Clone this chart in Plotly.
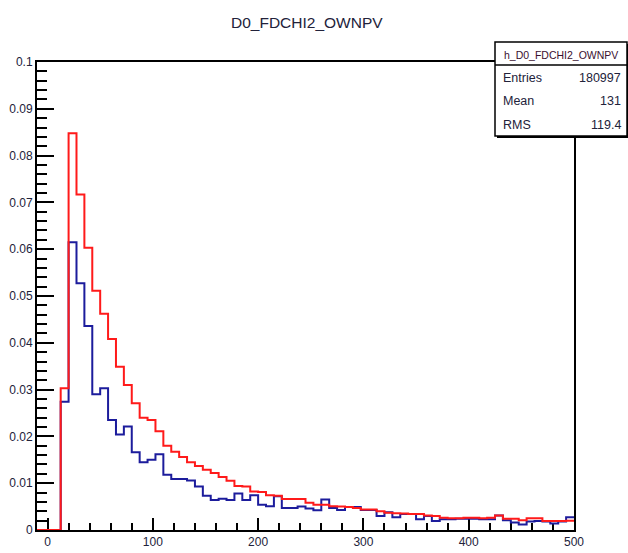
import numpy as np
import plotly.graph_objects as go

# Histogram binning (68 bins of 7.5 from -10 to 500)
X_MIN, X_MAX, N_BINS = -10.0, 500.0, 68

# Normalised bin contents, red histogram
red_values = [
    0.0, 0.0, 0.0,
    0.0303, 0.0848, 0.0717, 0.0603, 0.0511, 0.0462, 0.0408, 0.0349, 0.0310, 0.0271,
    0.0240, 0.0235, 0.0211, 0.0180, 0.0167, 0.0156, 0.0145, 0.0137, 0.0129, 0.0122,
    0.0113, 0.0105, 0.0094, 0.0093, 0.0082, 0.0081, 0.0074, 0.0073, 0.0066, 0.0066,
    0.0066, 0.0058, 0.0054, 0.0054, 0.0051, 0.0050, 0.0049, 0.0047, 0.0044, 0.0044,
    0.0040, 0.0037, 0.0036, 0.0035, 0.0034, 0.0034, 0.0031, 0.0030, 0.0026, 0.0025,
    0.0025, 0.0026, 0.0026, 0.0025, 0.0026, 0.0031, 0.0024, 0.0024, 0.0021, 0.0025,
    0.0025, 0.0019, 0.0019, 0.0019, 0.0020,
]

# Normalised bin contents, blue histogram
blue_values = [
    0.0, 0.0, 0.0,
    0.0274, 0.0615, 0.0527, 0.0436, 0.0290, 0.0303, 0.0235, 0.0204, 0.0221, 0.0166,
    0.0145, 0.0150, 0.0162, 0.0118, 0.0109, 0.0109, 0.0106, 0.0093, 0.0073, 0.0064,
    0.0067, 0.0064, 0.0078, 0.0064, 0.0074, 0.0054, 0.0051, 0.0072, 0.0047, 0.0047,
    0.0050, 0.0046, 0.0042, 0.0065, 0.0047, 0.0043, 0.0049, 0.0049, 0.0043, 0.0043,
    0.0030, 0.0038, 0.0027, 0.0034, 0.0034, 0.0023, 0.0030, 0.0019, 0.0023, 0.0023,
    0.0024, 0.0024, 0.0024, 0.0023, 0.0023, 0.0031, 0.0021, 0.0016, 0.0012, 0.0018,
    0.0019, 0.0018, 0.0014, 0.0018, 0.0027,
]

# Statistics box contents
hist_name = "h_D0_FDCHI2_OWNPV"
stat_labels = ["Entries", "Mean", "RMS"]
stat_values = ["180997", "131", "119.4"]

title_text = "D0_FDCHI2_OWNPV"

x_tick_vals = [0, 100, 200, 300, 400, 500]
x_tick_text = ["0", "100", "200", "300", "400", "500"]
y_tick_vals = [0.0, 0.01, 0.02, 0.03, 0.04, 0.05, 0.06, 0.07, 0.08, 0.09, 0.1]
y_tick_text = ["0", "0.01", "0.02", "0.03", "0.04", "0.05", "0.06", "0.07", "0.08", "0.09", "0.1"]

# Page geometry
W, H = 628, 553
ML, MR, MT, MB = 37, 54, 62, 23
FONT = "Liberation Sans, Arial, sans-serif"
TEXT_COLOR = "#22223a"


def paper(x, y):
    """Convert page pixel coordinates into paper coordinates."""
    return (x - ML) / (W - ML - MR), (H - MB - y) / (H - MT - MB)


edges = np.linspace(X_MIN, X_MAX, N_BINS + 1)


def step_trace(values, color):
    ys = list(values) + [values[-1]]
    return go.Scatter(
        x=edges, y=ys, mode="lines", line=dict(shape="hv", color=color, width=2),
        hoverinfo="skip", showlegend=False,
    )


fig = go.Figure()
fig.add_trace(step_trace(blue_values, "#1c1c9c"))
fig.add_trace(step_trace(red_values, "#ff1a1a"))

axis_common = dict(
    showgrid=False, zeroline=False, showline=True, mirror=True,
    linecolor="black", linewidth=2, ticks="inside", tickcolor="black",
    tickwidth=1.5, layer="below traces", automargin=False,
    tickfont=dict(family=FONT, size=12, color=TEXT_COLOR),
)

fig.update_xaxes(
    range=[X_MIN, X_MAX], tickvals=x_tick_vals, ticktext=x_tick_text,
    ticklen=12,
    minor=dict(ticks="inside", dtick=20, tick0=0, ticklen=7, tickcolor="black", tickwidth=1.5),
    **axis_common,
)
fig.update_yaxes(
    range=[0, 0.1], tickvals=y_tick_vals, ticktext=y_tick_text,
    ticklen=17,
    minor=dict(ticks="inside", dtick=0.002, tick0=0, ticklen=10, tickcolor="black", tickwidth=1.5),
    **axis_common,
)

shapes = []
annotations = []

# Statistics box with a thin shadow
bx0, by0, bx1, by1, bsep = 495, 42, 627, 136, 65
sx0, sy0 = paper(bx0 + 2, by0 + 2)
sx1, sy1 = paper(bx1 + 2, by1 + 2)
shapes.append(dict(type="rect", xref="paper", yref="paper", x0=sx0, y0=sy0, x1=sx1, y1=sy1,
                   fillcolor="black", line=dict(width=0), layer="above"))
px0, py0 = paper(bx0, by0)
px1, py1 = paper(bx1, by1)
shapes.append(dict(type="rect", xref="paper", yref="paper", x0=px0, y0=py0, x1=px1, y1=py1,
                   fillcolor="white", line=dict(color="black", width=1.5), layer="above"))
_, ysep = paper(0, bsep)
shapes.append(dict(type="line", xref="paper", yref="paper", x0=px0, y0=ysep, x1=px1, y1=ysep,
                   line=dict(color="black", width=1.5), layer="above"))

cx, cy = paper((bx0 + bx1) / 2, (by0 + bsep) / 2 + 1)
annotations.append(dict(x=cx, y=cy, xref="paper", yref="paper", text=hist_name,
                        showarrow=False, xanchor="center", yanchor="middle",
                        font=dict(family=FONT, size=10.5, color="#3a1030")))

row_y = [78, 101, 125]
for lab, val, ry in zip(stat_labels, stat_values, row_y):
    lx, ly = paper(bx0 + 6, ry)
    rx, _ = paper(bx1 - 4, ry)
    annotations.append(dict(x=lx, y=ly, xref="paper", yref="paper", text=lab,
                            showarrow=False, xanchor="left", yanchor="middle",
                            font=dict(family=FONT, size=12.5, color=TEXT_COLOR)))
    annotations.append(dict(x=rx, y=ly, xref="paper", yref="paper", text=val,
                            showarrow=False, xanchor="right", yanchor="middle",
                            font=dict(family=FONT, size=12.5, color=TEXT_COLOR)))

tx, ty = paper(307, 22)
annotations.append(dict(x=tx, y=ty, xref="paper", yref="paper", text=title_text,
                        showarrow=False, xanchor="center", yanchor="middle",
                        font=dict(family=FONT, size=15.5, color=TEXT_COLOR)))

fig.update_layout(
    width=W, height=H,
    margin=dict(l=ML, r=MR, t=MT, b=MB, pad=0),
    paper_bgcolor="white", plot_bgcolor="white",
    shapes=shapes, annotations=annotations,
    showlegend=False,
)

fig.write_html("out.html")
